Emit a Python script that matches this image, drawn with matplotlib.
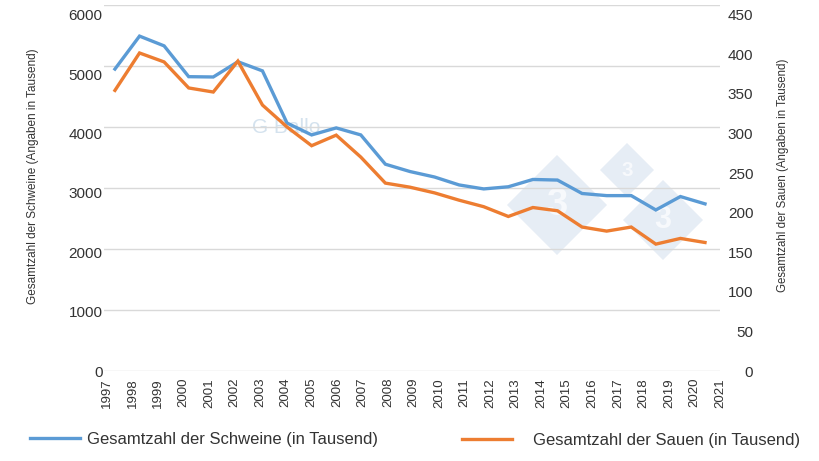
import matplotlib.pyplot as plt
import matplotlib.transforms as mtransforms
from matplotlib.patches import Polygon
import numpy as np

plt.rcParams['font.family'] = ['Liberation Sans', 'DejaVu Sans']

# Werte (in Tausend)
jahre = [str(j) for j in range(1997, 2022)]
schweine = [4950, 5490, 5330, 4825, 4820, 5070, 4920, 4065, 3870, 3985,
            3870, 3390, 3270, 3180, 3050, 2985, 3020, 3140, 3130, 2910,
            2875, 2875, 2640, 2860, 2740]
sauen = [345, 391, 380, 348, 343, 381, 327, 300, 277, 290,
         263, 231, 226, 219, 210, 202, 190, 201, 197, 177,
         172, 177, 156, 163, 158]

blau = '#5b9bd5'
orange = '#ed7d31'
textfarbe = '#333333'

fig = plt.figure(figsize=(8.2, 4.61), dpi=100)
ax = fig.add_axes([104/820, 1 - 371/461, 616/820, 366/461])
ax2 = ax.twinx()
ax.set_zorder(1)
ax2.set_zorder(2)
ax.patch.set_alpha(0)
ax2.patch.set_alpha(0)

# Wasserzeichen (Logo-Rauten), in Pixeln der Abbildung
W, H = 820, 461
for cx, cy, r in ((557, 205, 50), (627, 170, 27), (663, 220, 40)):
    pts = [((cx - r) / W, 1 - cy / H), (cx / W, 1 - (cy - r) / H),
           ((cx + r) / W, 1 - cy / H), (cx / W, 1 - (cy + r) / H)]
    fig.patches.append(Polygon(pts, closed=True, transform=fig.transFigure,
                               facecolor='#e6edf5', edgecolor='none', zorder=0.1))
    fig.text(cx / W, 1 - cy / H, '3', ha='center', va='center', color='#f7f9fc',
             fontsize=r * 0.55, fontweight='bold', zorder=0.2)

x = np.arange(len(schweine))
l1, = ax.plot(x, schweine, color=blau, lw=2.4, solid_joinstyle='miter')
l2, = ax2.plot(x, sauen, color=orange, lw=2.4, solid_joinstyle='miter')

# x-Achse: Beschriftung über die ganze Breite verteilt
xmin, xmax = -0.445, 24.49
ax.set_xlim(xmin, xmax)
ax.set_xticks(np.linspace(xmin, xmax, len(jahre)) + 0.12)
ax.set_xticklabels(jahre, rotation=90, fontsize=9.5, color=textfarbe)

ax.set_ylim(0, 6000)
ax.set_yticks(range(0, 6001, 1000))
ax2.set_ylim(0, 450)
ax2.set_yticks(range(0, 451, 50))

ax.grid(axis='y', color='#d9d9d9', lw=1)
ax.set_axisbelow(True)
for a in (ax, ax2):
    for s in a.spines.values():
        s.set_visible(False)
ax.tick_params(axis='x', length=0, pad=5)
ax.tick_params(axis='y', length=0, pad=1, labelsize=11, labelcolor=textfarbe)
ax2.tick_params(axis='y', length=0, pad=24, labelsize=11, labelcolor=textfarbe)
for t in ax2.get_yticklabels():
    t.set_horizontalalignment('right')

# Beschriftungen sitzen im Original etwas unter den Gitterlinien
fig.canvas.draw()
for a, top in ((ax, 6000), (ax2, 450)):
    for tick in a.yaxis.get_major_ticks():
        d = -7 * tick.get_loc() / top / 72
        for lab in (tick.label1, tick.label2):
            lab.set_transform(lab.get_transform() +
                              mtransforms.ScaledTranslation(0, d, fig.dpi_scale_trans))

fig.text(33/820, 1 - 176/461, 'Gesamtzahl der Schweine (Angaben in Tausend)',
         rotation=90, ha='center', va='center', fontsize=8.5, color=textfarbe)
fig.text(783/820, 1 - 175/461, 'Gesamtzahl der Sauen (Angaben in Tausend)',
         rotation=90, ha='center', va='center', fontsize=8.3, color=textfarbe)

ax.text(0.295, 0.665, 'G Ballo', transform=ax.transAxes, fontsize=15,
        color='#b8cfe3', alpha=0.6, ha='center', va='center', zorder=0.5)

fig.legend([l1], ['Gesamtzahl der Schweine (in Tausend)'], loc='center left',
           bbox_to_anchor=(15/820, 1 - 439/461), frameon=False, fontsize=12,
           handlelength=3.0, handletextpad=0.4, labelcolor=textfarbe)
fig.legend([l2], ['Gesamtzahl der Sauen (in Tausend)'], loc='center left',
           bbox_to_anchor=(447/820, 1 - 440/461), frameon=False, fontsize=12,
           handlelength=3.0, handletextpad=1.25, labelcolor=textfarbe)

fig.savefig('out.png', dpi=100)
